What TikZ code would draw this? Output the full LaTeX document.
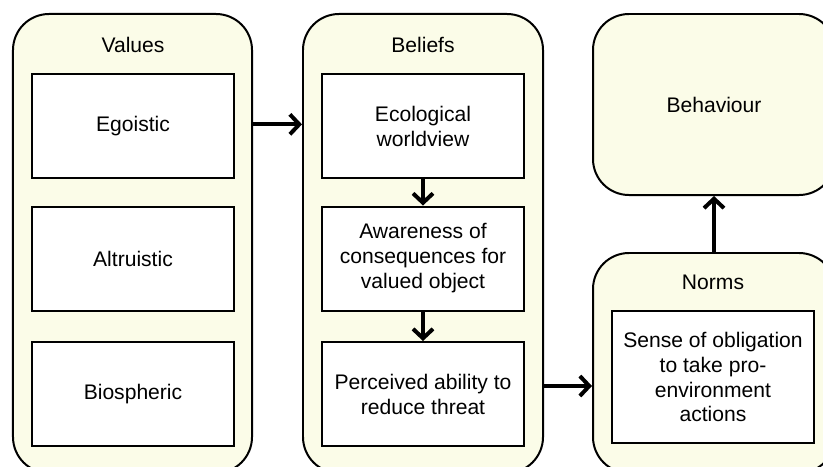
\documentclass[tikz,border=0pt]{standalone}
\usepackage{fontspec}
\setmainfont{Liberation Sans}
\usetikzlibrary{arrows.meta}
\definecolor{cream}{RGB}{251,252,232}
\tikzset{
  group/.style={draw, fill=cream, line width=1.7pt, rounded corners=1.08cm,
    font=\fontsize{18}{21.3}\selectfont},
  item/.style={draw, fill=white, line width=1.7pt, minimum width=6.06cm,
    minimum height=3.12cm, align=center, font=\fontsize{18}{21.3}\selectfont},
  title/.style={font=\fontsize{18}{21.3}\selectfont},
  link/.style={line width=3.4pt, -{Straight Barb[length=8pt,width=17pt]}}
}

\begin{document}
\begin{tikzpicture}[x=0.03cm,y=-0.03cm]
        \useasboundingbox (0,0) rectangle (823,466);
        \clip (0,0) rectangle (823,466);
        % the four groups
        \node[group, minimum width=7.17cm, minimum height=13.77cm] (values) at (132.5,243.5) {};
        \node[group, minimum width=7.2cm, minimum height=13.77cm] (beliefs) at (423,243.5) {};
        \node[group, minimum width=7.26cm, minimum height=5.43cm] (behav) at (714,104.5) {Behaviour};
        \node[group, minimum width=7.26cm, minimum height=6.6cm] (norms) at (714,363) {};
        \node[title] (valuesname) at (133,45) {Values};
        \node[title] (beliefsname) at (423,45) {Beliefs};
        \node[title] (normsname) at (713,282) {Norms};
        % values
        \node[item] (ego) at (133,126) {Egoistic};
        \node[item] (alt) at (133,258.5) {Altruistic};
        \node[item] (bio) at (133,394) {Biospheric};
        % beliefs
        \node[item] (eco) at (423,126) {Ecological\\worldview};
        \node[item] (aware) at (423,258.5) {Awareness of\\consequences for\\valued object};
        \node[item] (perc) at (423,394) {Perceived ability to\\reduce threat};
        % norms
        \node[item, minimum height=3.96cm] (oblig) at (713,377) {Sense of obligation\\to take pro-\\environment\\actions};
        % arrows
        \draw[link] ([yshift=0.05cm]ego.east -| values.east) -- ([yshift=0.05cm]ego.east -| beliefs.west);
        \draw[link] (eco.south) -- (aware.north);
        \draw[link] (aware.south) -- (perc.north);
        \draw[link] ([yshift=0.24cm]perc.east -| beliefs.east) -- ([yshift=0.24cm]perc.east -| norms.west);
        \draw[link] (norms.north) -- (behav.south);
\end{tikzpicture}
\end{document}
